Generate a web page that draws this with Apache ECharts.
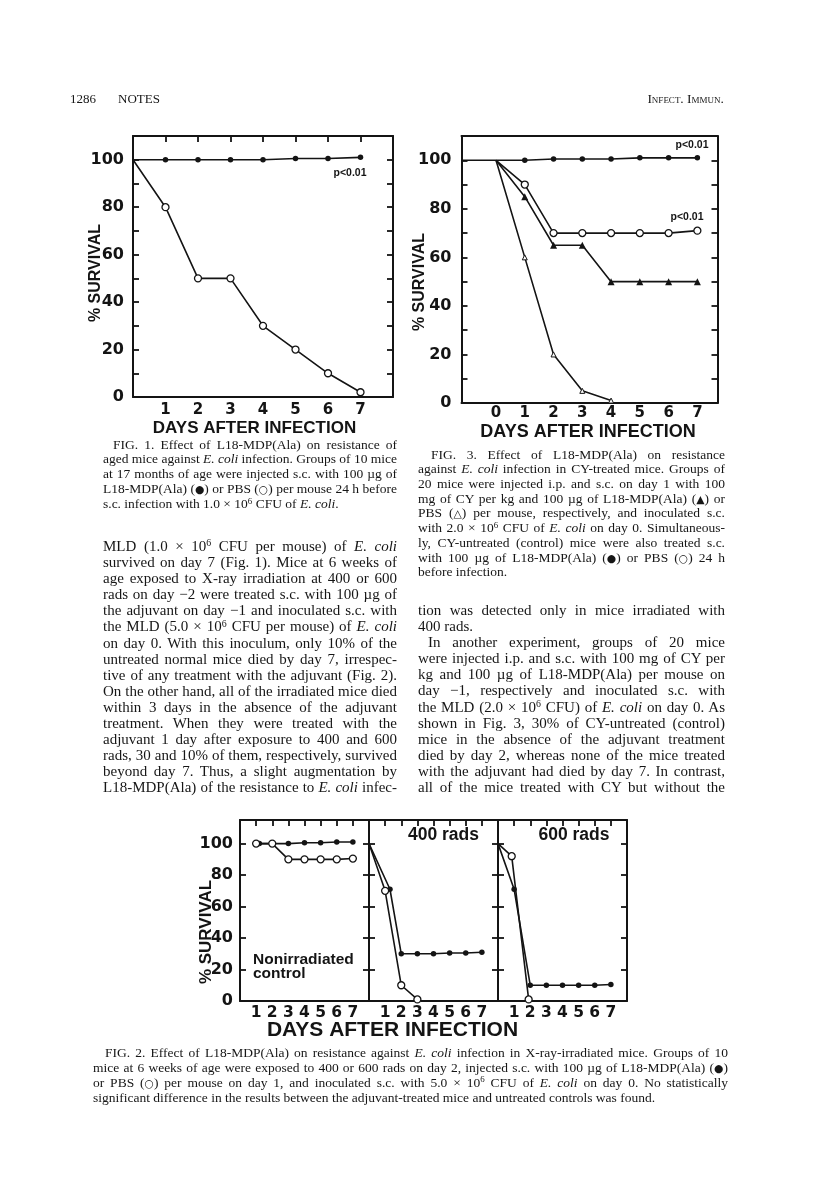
<!DOCTYPE html>
<html><head><meta charset="utf-8">
<script src="https://cdn.jsdelivr.net/npm/echarts@6/dist/echarts.min.js"></script>
<style>
html,body{margin:0;padding:0;background:#fff;}
#page{position:relative;width:816px;height:1181px;overflow:hidden;background:#fff;}
#chart{position:absolute;left:0;top:0;width:816px;height:1181px;}
.ln{position:absolute;white-space:nowrap;font-family:"Liberation Serif","Times New Roman",serif;color:#161616;transform-origin:0 50%;}
.ln .s{font-size:0.66em;position:relative;top:-0.5em;}
.ln .g{font-family:"DejaVu Sans",sans-serif;font-size:0.8em;}
</style></head><body><div id="page"><div id="chart"></div></div>
<script>
// ---------------- DATA ----------------
// FIG. 1 (aged mice)
const fig1Days = [0, 1, 2, 3, 4, 5, 6, 7];
const fig1L18 = [100, 100, 100, 100, 100, 100.5, 100.5, 101];
const fig1PBS = [100, 80, 50, 50, 30, 20, 10, 2];

// FIG. 3 (CY-treated mice)
const fig3AxisStart = -1.2;
const fig3Days = [0, 1, 2, 3, 4, 5, 6, 7];
const fig3L18 = [100, 100, 100.5, 100.5, 100.5, 101, 101, 101];
const fig3PBS = [100, 90, 70, 70, 70, 70, 70, 71];
const fig3CYL18 = [100, 85, 65, 65, 50, 50, 50, 50];
const fig3CYPBSDays = [0, 1, 2, 3, 4];
const fig3CYPBS = [100, 60, 20, 5, 1];

// FIG. 2 (X-ray-irradiated mice)
const fig2CtrlL18Days = [1.2, 2, 3, 4, 5, 6, 7];
const fig2CtrlL18 = [100, 100, 100, 100.5, 100.5, 101, 101];
const fig2CtrlPBSDays = [1, 2, 3, 4, 5, 6, 7];
const fig2CtrlPBS = [100, 100, 90, 90, 90, 90, 90.5];
const fig2R400L18Days = [0, 1.3, 2, 3, 4, 5, 6, 7];
const fig2R400L18 = [100, 71, 30, 30, 30, 30.5, 30.5, 31];
const fig2R400PBSDays = [0, 1, 2, 3];
const fig2R400PBS = [100, 70, 10, 1];
const fig2R600L18Days = [0, 1, 2, 3, 4, 5, 6, 7];
const fig2R600L18 = [100, 71, 10, 10, 10, 10, 10, 10.5];
const fig2R600PBSDays = [0, 0.85, 1.9];
const fig2R600PBS = [100, 92, 1];

// tick labels
const days1to7 = [1, 2, 3, 4, 5, 6, 7];
const days0to7 = [0, 1, 2, 3, 4, 5, 6, 7];
const yLabels = [0, 20, 40, 60, 80, 100];
const yTicks10 = [10, 20, 30, 40, 50, 60, 70, 80, 90, 100];
const yTicks20 = [20, 40, 60, 80, 100];

// ---------------- CHART ----------------
const INK = '#141414';
const grids = [], xAxes = [], yAxes = [], series = [];

function frame(g, xr, yr, o) {
  const gi = grids.length;
  grids.push(Object.assign({containLabel: false}, g));
  const line = {show: true, onZero: false, lineStyle: {color: INK, width: 2}};
  const tick = (vals) => ({show: !!vals, inside: true, length: 6, customValues: vals || [], lineStyle: {color: INK, width: 1.8}});
  const lab = (vals, size, margin) => ({show: !!vals, customValues: vals || [], margin: margin, color: INK,
    fontFamily: 'DejaVu Sans', fontWeight: 'bold', fontSize: size});
  xAxes.push({gridIndex: gi, type: 'value', position: 'bottom', min: xr[0], max: xr[1], axisLine: line,
    axisTick: {show: false}, splitLine: {show: false}, axisLabel: lab(o.xLabels, o.xFont, o.xMargin)});
  const xi = xAxes.length - 1;
  xAxes.push({gridIndex: gi, type: 'value', position: 'top', min: xr[0], max: xr[1], axisLine: line,
    axisTick: tick(o.topTicks), splitLine: {show: false}, axisLabel: {show: false}});
  yAxes.push({gridIndex: gi, type: 'value', position: 'left', min: yr[0], max: yr[1], axisLine: line,
    axisTick: tick(o.leftTicks), splitLine: {show: false}, axisLabel: lab(o.yLabels, 16, o.yMargin)});
  const yi = yAxes.length - 1;
  yAxes.push({gridIndex: gi, type: 'value', position: 'right', min: yr[0], max: yr[1], axisLine: line,
    axisTick: tick(o.rightTicks), splitLine: {show: false}, axisLabel: {show: false}});
  return {x: xi, y: yi};
}

function pts(days, vals, hideFirst) {
  return days.map((d, i) => (i === 0 && hideFirst) ? {value: [d, vals[i]], symbol: 'none'} : [d, vals[i]]);
}
const FILLED = {symbol: 'circle', symbolSize: 5.5, itemStyle: {color: INK}};
const OPEN = {symbol: 'circle', symbolSize: 7, itemStyle: {color: '#fff', borderColor: INK, borderWidth: 1.3}};
const TRI = {symbol: 'triangle', symbolSize: 7, itemStyle: {color: INK}};
const OTRI = {symbol: 'triangle', symbolSize: 5, itemStyle: {color: '#fff', borderColor: INK, borderWidth: 1}};
function addLine(ax, data, style, z) {
  series.push(Object.assign({type: 'line', xAxisIndex: ax.x, yAxisIndex: ax.y, data: data, showAllSymbol: true,
    lineStyle: {color: INK, width: 1.6}, emphasis: {disabled: true}, silent: true, z: z || 2, animation: false}, style));
}

// FIG 1
const a1 = frame({left: 133, top: 136, width: 260, height: 261}, [0, 8], [0, 110],
  {xLabels: days1to7, xFont: 15, xMargin: 6, topTicks: days1to7, leftTicks: yTicks10, rightTicks: yTicks10, yLabels: yLabels, yMargin: 9});
addLine(a1, pts(fig1Days, fig1L18, true), FILLED);
addLine(a1, pts(fig1Days, fig1PBS, true), OPEN);

// FIG 3
const a3 = frame({left: 461.5, top: 136, width: 256, height: 267}, [fig3AxisStart, 7.7], [0, 110],
  {xLabels: days0to7, xFont: 15, xMargin: 3, topTicks: null, leftTicks: yTicks10, rightTicks: yTicks10, yLabels: yLabels, yMargin: 10});
addLine(a3, [{value: [fig3AxisStart, 100], symbol: 'none'}].concat(pts(fig3Days, fig3L18, true)), FILLED);
addLine(a3, pts(fig3Days, fig3PBS, true), OPEN);
addLine(a3, pts(fig3Days, fig3CYL18, true), TRI);
addLine(a3, pts(fig3CYPBSDays, fig3CYPBS, true), OTRI);

// FIG 2 panels
const a2a = frame({left: 240, top: 820, width: 129, height: 181}, [0, 8], [0, 115],
  {xLabels: days1to7, xFont: 15.5, xMargin: 4, topTicks: days1to7, leftTicks: yTicks20, rightTicks: yTicks20, yLabels: yLabels, yMargin: 7});
const a2b = frame({left: 369, top: 820, width: 129, height: 181}, [0, 8], [0, 115],
  {xLabels: days1to7, xFont: 15.5, xMargin: 4, topTicks: days1to7, leftTicks: yTicks20, rightTicks: yTicks20, yLabels: null});
const a2c = frame({left: 498, top: 820, width: 129, height: 181}, [0, 8], [0, 115],
  {xLabels: days1to7, xFont: 15.5, xMargin: 4, topTicks: days1to7, leftTicks: yTicks20, rightTicks: yTicks20, yLabels: null});
addLine(a2a, pts(fig2CtrlL18Days, fig2CtrlL18, false), FILLED);
addLine(a2a, pts(fig2CtrlPBSDays, fig2CtrlPBS, false), OPEN);
addLine(a2b, pts(fig2R400L18Days, fig2R400L18, true), FILLED);
addLine(a2b, pts(fig2R400PBSDays, fig2R400PBS, true), OPEN);
addLine(a2c, pts(fig2R600L18Days, fig2R600L18, true), FILLED);
addLine(a2c, pts(fig2R600PBSDays, fig2R600PBS, true), OPEN);

// annotation texts
const SANS = '"Liberation Sans", Arial, sans-serif';
function txt(s, x, y, size, rot, extra) {
  return Object.assign({type: 'text', x: x, y: y, rotation: rot || 0, silent: true, z: 10,
    style: {text: s, x: 0, y: 0, align: 'center', verticalAlign: 'middle', fill: INK,
      font: 'bold ' + size + 'px ' + SANS}}, extra || {});
}
const graphics = [
  txt('DAYS AFTER INFECTION', 254.5, 428, 17),
  txt('% SURVIVAL', 96, 273, 16, Math.PI / 2),
  txt('p<0.01', 350, 173, 10.5),
  txt('DAYS AFTER INFECTION', 588, 432, 18),
  txt('% SURVIVAL', 420, 282, 16, Math.PI / 2),
  txt('p<0.01', 692, 145, 10.5),
  txt('p<0.01', 687, 217, 10.5),
  txt('DAYS AFTER INFECTION', 392.5, 1030, 21),
  txt('% SURVIVAL', 206, 932, 17, Math.PI / 2),
  txt('400 rads', 443.5, 835, 17.5),
  txt('600 rads', 574, 835, 17.5),
  {type: 'text', x: 253, y: 953, silent: true, z: 10,
    style: {text: 'Nonirradiated\ncontrol', x: 0, y: 0, align: 'left', verticalAlign: 'top', fill: INK,
      font: 'bold 15.5px ' + SANS, lineHeight: 14}}
];

const chart = echarts.init(document.getElementById('chart'), null, {renderer: 'canvas'});
chart.setOption({
  animation: false, backgroundColor: 'transparent',
  grid: grids, xAxis: xAxes, yAxis: yAxes, series: series, graphic: graphics
});

// ---------------- PAGE TEXT ----------------
const page = document.getElementById('page');
const E = '<i>E. coli</i>';
const SIX = '10<span class="s">6</span>';
const header = [
  {h: '1286', x: 70, y: 99, size: 13},
  {h: 'NOTES', x: 118, y: 99, size: 13},
  {h: '<span style="font-variant:small-caps">Infect. Immun.</span>', xr: 724, y: 99, size: 13.5}
];
const fig1Caption = [
  'FIG. 1. Effect of L18-MDP(Ala) on resistance of',
  'aged mice against ' + E + ' infection. Groups of 10 mice',
  'at 17 months of age were injected s.c. with 100 µg of',
  'L18-MDP(Ala) (<span class="g">●</span>) or PBS (<span class="g">○</span>) per mouse 24 h before',
  's.c. infection with 1.0 × ' + SIX + ' CFU of ' + E + '.'
];
const fig3Caption = [
  'FIG. 3. Effect of L18-MDP(Ala) on resistance',
  'against ' + E + ' infection in CY-treated mice. Groups of',
  '20 mice were injected i.p. and s.c. on day 1 with 100',
  'mg of CY per kg and 100 µg of L18-MDP(Ala) (<span class="g">▲</span>) or',
  'PBS (<span class="g">△</span>) per mouse, respectively, and inoculated s.c.',
  'with 2.0 × ' + SIX + ' CFU of ' + E + ' on day 0. Simultaneous-',
  'ly, CY-untreated (control) mice were also treated s.c.',
  'with 100 µg of L18-MDP(Ala) (<span class="g">●</span>) or PBS (<span class="g">○</span>) 24 h',
  'before infection.'
];
const leftBody = [
  'MLD (1.0 × ' + SIX + ' CFU per mouse) of ' + E,
  'survived on day 7 (Fig. 1). Mice at 6 weeks of',
  'age exposed to X-ray irradiation at 400 or 600',
  'rads on day −2 were treated s.c. with 100 µg of',
  'the adjuvant on day −1 and inoculated s.c. with',
  'the MLD (5.0 × ' + SIX + ' CFU per mouse) of ' + E,
  'on day 0. With this inoculum, only 10% of the',
  'untreated normal mice died by day 7, irrespec-',
  'tive of any treatment with the adjuvant (Fig. 2).',
  'On the other hand, all of the irradiated mice died',
  'within 3 days in the absence of the adjuvant',
  'treatment. When they were treated with the',
  'adjuvant 1 day after exposure to 400 and 600',
  'rads, 30 and 10% of them, respectively, survived',
  'beyond day 7. Thus, a slight augmentation by',
  'L18-MDP(Ala) of the resistance to ' + E + ' infec-'
];
const rightBody = [
  'tion was detected only in mice irradiated with',
  '400 rads.',
  'In another experiment, groups of 20 mice',
  'were injected i.p. and s.c. with 100 mg of CY per',
  'kg and 100 µg of L18-MDP(Ala) per mouse on',
  'day −1, respectively and inoculated s.c. with',
  'the MLD (2.0 × ' + SIX + ' CFU) of ' + E + ' on day 0. As',
  'shown in Fig. 3, 30% of CY-untreated (control)',
  'mice in the absence of the adjuvant treatment',
  'died by day 2, whereas none of the mice treated',
  'with the adjuvant had died by day 7. In contrast,',
  'all of the mice treated with CY but without the'
];
const fig2Caption = [
  'FIG. 2. Effect of L18-MDP(Ala) on resistance against ' + E + ' infection in X-ray-irradiated mice. Groups of 10',
  'mice at 6 weeks of age were exposed to 400 or 600 rads on day 2, injected s.c. with 100 µg of L18-MDP(Ala) (<span class="g">●</span>)',
  'or PBS (<span class="g">○</span>) per mouse on day 1, and inoculated s.c. with 5.0 × ' + SIX + ' CFU of ' + E + ' on day 0. No statistically',
  'significant difference in the results between the adjuvant-treated mice and untreated controls was found.'
];

const blocks = [
  {lines: fig1Caption, x: 103, w: 294, y0: 445, step: 14.9, size: 13.5, indents: {0: 10}, ragged: [4]},
  {lines: fig3Caption, x: 418, w: 307, y0: 455, step: 14.7, size: 13.5, indents: {0: 13}, ragged: [8]},
  {lines: leftBody, x: 103, w: 294, y0: 546, step: 16.1, size: 15, indents: {}, ragged: []},
  {lines: rightBody, x: 418, w: 307, y0: 610, step: 16.1, size: 15, indents: {2: 10}, ragged: [1]},
  {lines: fig2Caption, x: 93, w: 635, y0: 1052, step: 15, size: 13.5, indents: {0: 12}, ragged: [3]}
];

const made = [];
function mk(html, size, lh, top) {
  const d = document.createElement('div');
  d.className = 'ln';
  d.innerHTML = html;
  d.style.fontSize = size + 'px';
  d.style.lineHeight = lh + 'px';
  d.style.height = lh + 'px';
  d.style.top = top + 'px';
  page.appendChild(d);
  return d;
}
header.forEach(h => {
  const d = mk(h.h, h.size, 16, h.y - 8);
  made.push({el: d, x: h.x, xr: h.xr, mode: 'plain'});
});
blocks.forEach(b => {
  b.lines.forEach((s, i) => {
    const ind = b.indents[i] || 0;
    const d = mk(s, b.size, b.step, b.y0 + i * b.step - b.step / 2);
    made.push({el: d, x: b.x + ind, w: b.w - ind, mode: b.ragged.indexOf(i) >= 0 ? 'left' : 'justify'});
  });
});
function layout() {
  made.forEach(m => {
    const el = m.el;
    el.style.wordSpacing = '0px';
    el.style.transform = 'none';
    const w = el.getBoundingClientRect().width;
    if (m.mode === 'plain') {
      el.style.left = (m.xr !== undefined ? m.xr - w : m.x) + 'px';
      return;
    }
    el.style.left = m.x + 'px';
    if (m.mode === 'justify') {
      const n = (el.textContent.match(/ /g) || []).length;
      let ws = n ? (m.w - w) / n : 0;
      if (ws < -1.5) { ws = 0; el.style.transform = 'scaleX(' + (m.w / w) + ')'; }
      el.style.wordSpacing = ws + 'px';
    } else if (w > m.w) {
      el.style.transform = 'scaleX(' + (m.w / w) + ')';
    }
  });
}
layout();
if (document.fonts && document.fonts.ready) document.fonts.ready.then(layout);
</script></body></html>
